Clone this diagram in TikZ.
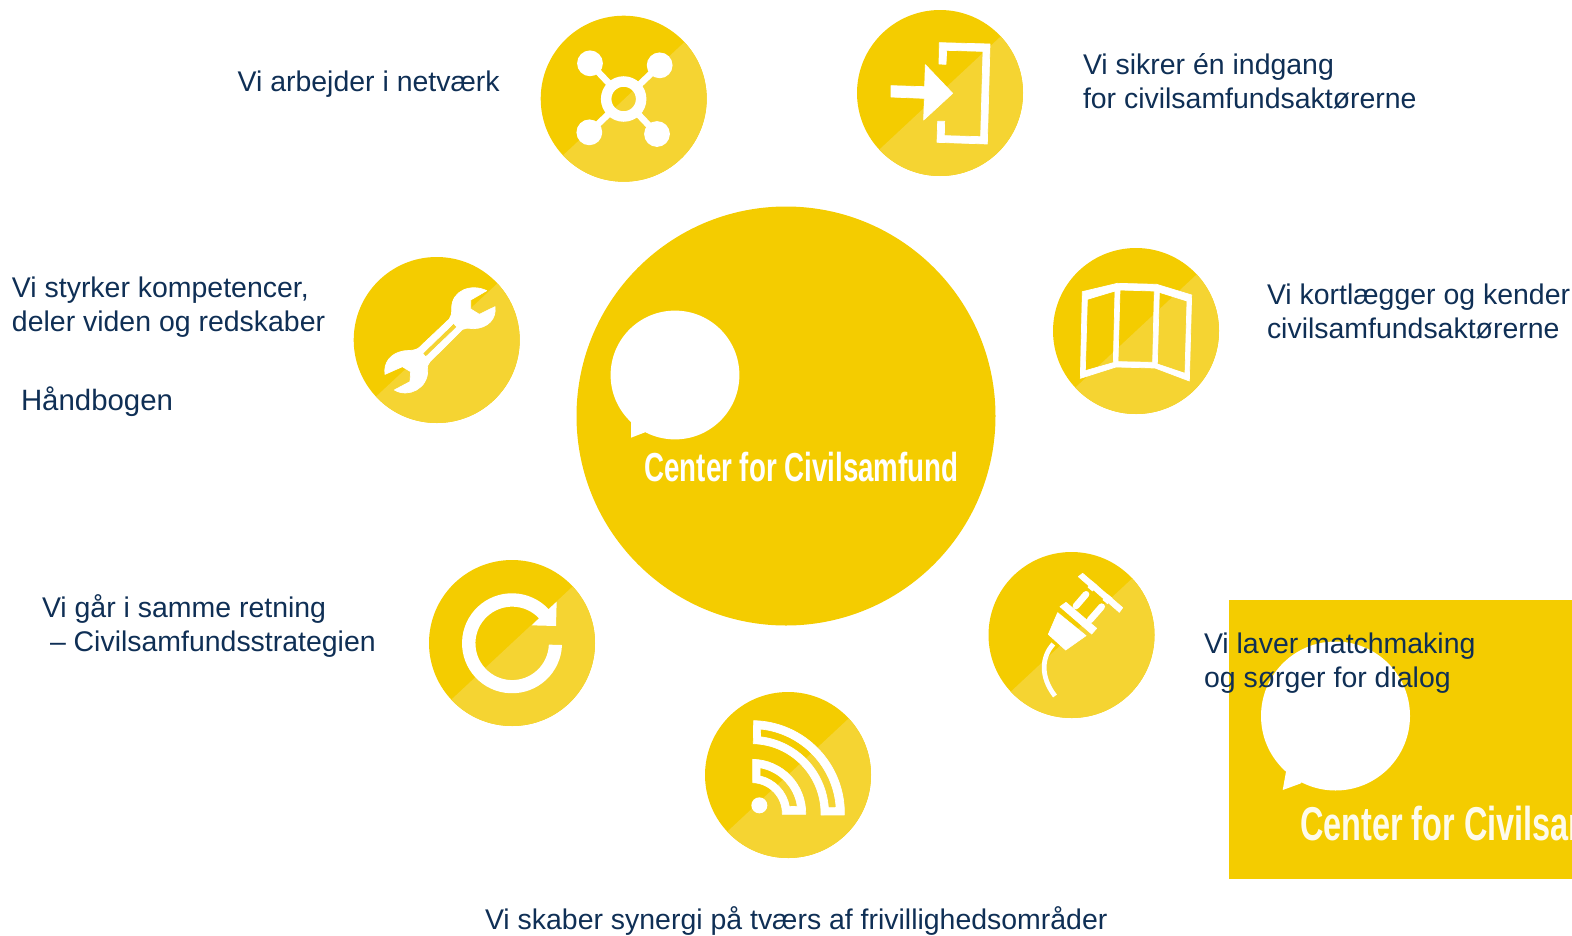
\documentclass[tikz,border=0pt]{standalone}
\usepackage{fontspec}
\usepackage{graphicx}
\setmainfont{Liberation Sans}
\definecolor{gold}{HTML}{F4CC00}
\definecolor{lightgold}{HTML}{F5D432}
\definecolor{navy}{HTML}{0F2F55}
\tikzset{
  badge/.style={circle,fill=gold,draw=none,inner sep=0pt,outer sep=0pt,minimum size=166pt},
  label/.style={anchor=base west,inner sep=0pt,outer sep=0pt,text=navy,align=left,
     font=\fontsize{28.45}{34}\selectfont},
  zoomed/.style={x=0.33333pt,y=-0.33333pt},
  logotext/.style={anchor=base west,inner sep=0pt,outer sep=0pt,text=white},
  icon/.style={fill=white,draw=white,line width=0.7pt,line join=round},
}
\newcommand{\badgeat}[3]{%
  \node[badge] (#1) at (#2,#3) {};
  \fill[lightgold] (#1.43) arc[start angle=43,end angle=-137,radius=83pt] -- cycle;
}
\begin{document}
\begin{tikzpicture}[x=1pt,y=-1pt]
\useasboundingbox (0,0) rectangle (1572,935);
% central circle
\node[circle,fill=gold,inner sep=0pt,outer sep=0pt,minimum size=419pt] (hub) at (786,416) {};
\fill[white] (631,421.7) -- (631,437.7) -- (645,432.3) -- (675,375) -- cycle;
\node[circle,fill=white,inner sep=0pt,outer sep=0pt,minimum size=128.8pt] (bubble) at (675,375) {};
\node[logotext] (hubtext) at (644.5,481.7) {\resizebox{314pt}{\height}{\fontsize{40.5}{44}\selectfont\bfseries Center for Civilsamfund}};
% inset
\begin{scope}
\clip (1229,600) rectangle (1572,878.7);
\fill[gold] (1229,600) rectangle (1572,878.7);
\fill[white] (1286,771.7) -- (1282.7,790) -- (1301,783.3) -- (1335.5,716) -- cycle;
\node[circle,fill=white,inner sep=0pt,outer sep=0pt,minimum size=149pt] (insetbubble) at (1335.5,716) {};
\node[logotext,text=white!92!gold] (insettext) at (1300,840) {\resizebox{368pt}{\height}{\fontsize{47.5}{50}\selectfont\bfseries Center for Civilsamfund}};
\end{scope}
% badges
\badgeat{net}{623.7}{98.7}
\badgeat{door}{940}{93}
\badgeat{wrench}{436.7}{340}
\badgeat{map}{1136}{331}
\badgeat{refresh}{512}{643}
\badgeat{plug}{1071.5}{635}
\badgeat{rss}{788}{775}
% network icon
\begin{scope}[shift={(530,0)},zoomed]
\draw[white,line width=6.5pt] (180,190) -- (381,402) (389,196) -- (178,397);
\fill[white] (180,190) circle[radius=12.9pt] (389,196) circle[radius=12.9pt]
             (178,397) circle[radius=12.9pt] (381,402) circle[radius=12.9pt];
\begin{scope}
\clip (281,297) circle[radius=18pt];
\fill[gold] (230,245) rectangle (335,350);
\clip (462,128) -- (105,465) -- (462,465) -- cycle;
\fill[lightgold] (230,245) rectangle (335,350);
\end{scope}
\draw[white,line width=10.5pt] (281,297) circle[radius=17.5pt];
\end{scope}
% door icon
\begin{scope}[shift={(530,0)},zoomed]
\fill[icon] (1228,128) -- (1380,132) -- (1372,432) -- (1221,427) -- (1223,364) -- (1244,364) -- (1243,407) -- (1352,410) -- (1359,154) -- (1250,151) -- (1248,193) -- (1227,192) -- cycle;
\fill[icon] (1083,257) -- (1184,260) -- (1186,194) -- (1268,280) -- (1181,360) -- (1183,295) -- (1083,291) -- cycle;
\end{scope}
% wrench icon
\begin{scope}[shift={(340,240)},zoomed]
\fill[icon,even odd rule] (440,152) .. controls (395,130) and (335,150) .. (335,205) .. controls (335,220) and (335,228) .. (328,237) -- (235,325) .. controls (215,335) and (200,330) .. (190,333) .. controls (150,340) and (130,370) .. (135,403) -- (187,380) -- (212,395) -- (210,425) -- (163,450) .. controls (205,475) and (265,445) .. (263,390) .. controls (262,378) and (263,372) .. (270,365) -- (368,268) .. controls (376,262) and (385,265) .. (400,266) .. controls (445,265) and (470,235) .. (465,200) -- (418,223) -- (392,207) -- (392,180) -- cycle
 (341,250) -- (351,261) -- (257,351) -- (248,340) -- cycle;
\end{scope}
% map icon
\begin{scope}[shift={(1040,240)},zoomed]
\fill[icon,even odd rule] (127,155) -- (232,130) -- (350,133) -- (455,165) -- (448,423) -- (345,384) -- (228,381) -- (121,415) -- cycle
 (142,178) -- (225,153) -- (220,368) -- (136,392) -- cycle
 (240,150) -- (343,153) -- (338,367) -- (234,365) -- cycle
 (358,157) -- (441,183) -- (435,400) -- (352,372) -- cycle;
\end{scope}
% refresh icon
\begin{scope}[shift={(420,550)},zoomed]
\fill[white] (426,285) arc[start angle=-2,end angle=-317,radius=50pt] -- (410,155) -- (408,228) -- (335,226) -- (357,205) arc[start angle=43,end angle=358,radius=36.7pt] -- cycle;
\end{scope}
% plug icon
\begin{scope}[shift={(975,540)},zoomed]
\fill[icon] (323,100) -- (443,203) -- (433,217) -- (310,110) -- cycle;
\draw[white,line width=6.5pt] (360,130) -- (345,148) (405,168) -- (390,186);
\draw[white,line width=6.7pt,line cap=round] (303,198) -- (333,163) (345,240) -- (380,200);
\fill[icon] (255,200) -- (273,187) -- (365,265) -- (350,282) -- cycle;
\fill[icon] (248,218) -- (333,287) -- (272,330) -- (220,283) -- cycle;
\draw[white,line width=4.8pt] (235,312) .. controls (200,350) and (195,410) .. (240,468);
\end{scope}
% rss icon
\begin{scope}[shift={(695,680)},zoomed]
\fill[icon,even odd rule] (176,122) arc[start angle=88.8,end angle=-1,radius=92.67pt] -- (378,405) arc[start angle=-1.4,end angle=88.4,radius=69.67pt] -- cycle
 (197,147) arc[start angle=83.9,end angle=3.8,radius=84.67pt] -- (400,383) arc[start angle=4.2,end angle=83.3,radius=77pt] -- cycle;
\fill[icon,even odd rule] (173,238) arc[start angle=89,end angle=-1,radius=54pt] -- (262,403) arc[start angle=-2,end angle=88,radius=30.67pt] -- cycle
 (195,263) arc[start angle=79.7,end angle=8.4,radius=46.1pt] -- (283,380) arc[start angle=10,end angle=77.4,radius=38.27pt] -- cycle;
\fill[white] (193,376) circle[radius=8pt];
\end{scope}
% labels
\node[label] (t1) at (237.6,91) {Vi arbejder i netværk};
\node[label] (t2) at (1083,108) {Vi sikrer én indgang\\for civilsamfundsaktørerne};
\node[label] (t3) at (1267,338) {Vi kortlægger og kender\\civilsamfundsaktørerne};
\node[label] (t4) at (12,331) {Vi styrker kompetencer,\\deler viden og redskaber};
\node[label,font=\fontsize{29.4}{34}\selectfont] (t5) at (21,410) {Håndbogen};
\node[label] (t6) at (42,651) {Vi går i samme retning\\\hspace*{8pt}– Civilsamfundsstrategien};
\node[label] (t7) at (1204,687) {Vi laver matchmaking\\og sørger for dialog};
\node[label] (t8) at (485,929) {Vi skaber synergi på tværs af frivillighedsområder};
\end{tikzpicture}
\end{document}
